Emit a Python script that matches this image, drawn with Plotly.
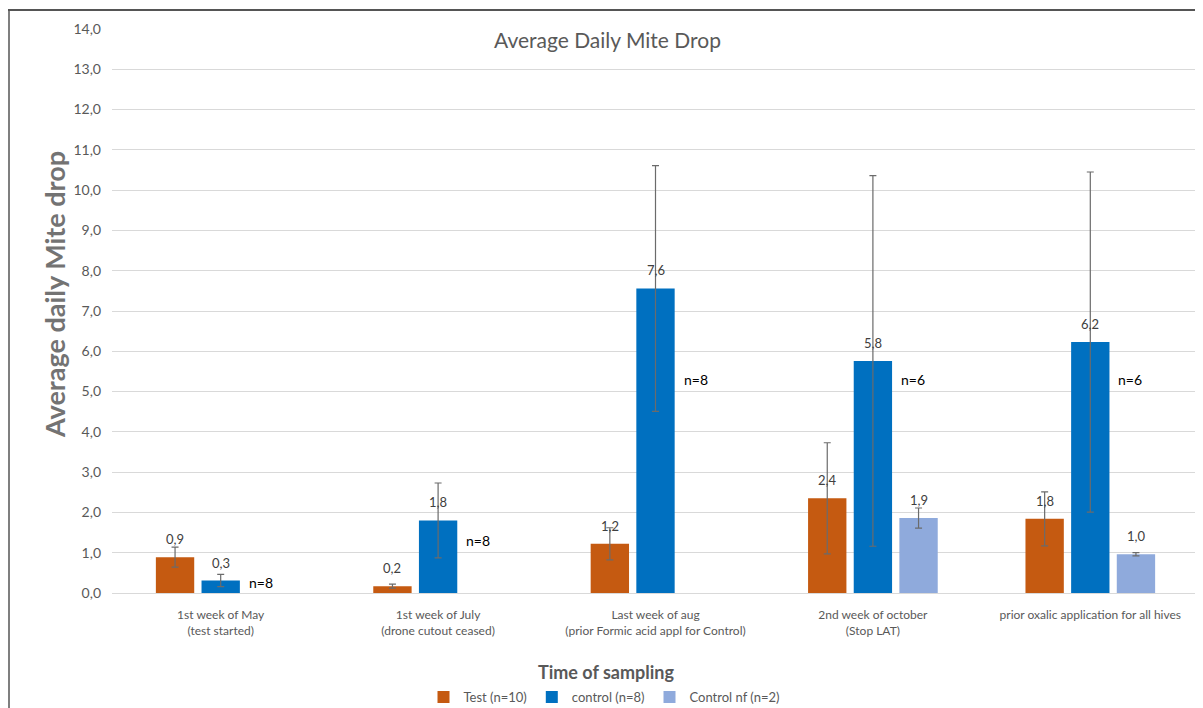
import plotly.graph_objects as go

categories = [
    "1st week of May<br>(test started)",
    "1st week of July<br>(drone cutout ceased)",
    "Last week of aug<br>(prior Formic acid appl for Control)",
    "2nd week of october<br>(Stop LAT)",
    "prior oxalic application for all hives",
]
test_vals = [0.89, 0.17, 1.22, 2.35, 1.84]
test_err = [0.25, 0.05, 0.40, 1.38, 0.67]
control_vals = [0.31, 1.80, 7.56, 5.76, 6.23]
control_err = [0.15, 0.93, 3.05, 4.60, 4.22]
nf_vals = [None, None, None, 1.86, 0.96]
nf_err = [None, None, None, 0.25, 0.04]
n_labels = ["n=8", "n=8", "n=8", "n=6", "n=6"]
n_label_y = [0.25, 1.30, 5.30, 5.30, 5.30]

# page has an 8px body margin: figure starts at screen (8, 8)
OFF = 8
W, H = 1203 - OFF, 708 - OFF
L, R, T, B = 112 - OFF, 4, 29 - OFF, 115
PW, PH = W - L - R, H - T - B
BARGAP, GROUPGAP = 0.37, 0.16


def px(sx):
    """screen x -> paper x"""
    return (sx - OFF - L) / PW


def py(sy):
    """screen y -> paper y"""
    return (H - B - (sy - OFF)) / PH


FONT = "Lato"
GRAY = "#595959"

fig = go.Figure()
series = [
    ("Test (n=10)", test_vals, test_err, "#C55A11"),
    ("control (n=8)", control_vals, control_err, "#0070C0"),
    ("Control nf (n=2)", nf_vals, nf_err, "#8FAADC"),
]
cat_px = PW / len(categories)
slot_px = cat_px * (1 - BARGAP) / len(series)
for si, (name, vals, errs, color) in enumerate(series):
    fig.add_trace(go.Bar(
        name=name, x=categories, y=vals,
        marker=dict(color=color, line=dict(width=0)),
        error_y=dict(type="data", array=errs, visible=True, color="#6b6b6b",
                     thickness=1.2, width=3.5),
    ))
    # data labels above each bar (Excel "outside end" style)
    for cat, v in zip(categories, vals):
        if v is None:
            continue
        fig.add_annotation(x=cat, y=v, text=f"{v:.1f}".replace(".", ","),
                           showarrow=False, xshift=(si - 1) * slot_px,
                           yshift=18, yanchor="middle",
                           font=dict(family=FONT, size=13, color="#404040"))

for cat, lab, yv in zip(categories, n_labels, n_label_y):
    fig.add_annotation(x=cat, y=yv, text=lab, showarrow=False, xshift=40,
                       font=dict(family=FONT, size=14, color="#000000"))

fig.add_annotation(xref="paper", yref="paper", x=px(607), y=py(40),
                   xanchor="center", yanchor="middle",
                   text="Average Daily Mite Drop", showarrow=False,
                   font=dict(family=FONT, size=21, color=GRAY))
fig.add_annotation(xref="paper", yref="paper", x=px(606), y=py(672),
                   xanchor="center", yanchor="middle",
                   text="<b>Time of sampling</b>", showarrow=False,
                   font=dict(family=FONT, size=18, color=GRAY))
fig.add_annotation(xref="paper", yref="paper", x=px(54), y=py(295),
                   xanchor="center", yanchor="middle",
                   text="<b>Average daily Mite drop</b>", showarrow=False,
                   textangle=-90,
                   font=dict(family=FONT, size=27, color="#737373"))

shapes = []
# chart border (top and left edges of the Excel chart frame)
shapes.append(dict(type="line", xref="paper", yref="paper",
                   x0=px(8), x1=px(1203), y0=py(10), y1=py(10),
                   line=dict(color="#555555", width=2)))
shapes.append(dict(type="line", xref="paper", yref="paper",
                   x0=px(9), x1=px(9), y0=py(10), y1=py(708),
                   line=dict(color="#555555", width=1.5)))

fig.update_layout(
    width=W, height=H,
    margin=dict(l=L, r=R, t=T, b=B, pad=0, autoexpand=False),
    paper_bgcolor="white", plot_bgcolor="white",
    separators=", ",
    barmode="group", bargap=BARGAP, bargroupgap=GROUPGAP,
    font=dict(family=FONT, color=GRAY),
    showlegend=True,
    legend=dict(orientation="h", xref="container", yref="container",
                xanchor="center", yanchor="middle",
                x=(604 - OFF) / W, y=(708 - 697) / H,
                font=dict(family=FONT, size=13, color=GRAY),
                itemwidth=30, tracegroupgap=0, bgcolor="rgba(0,0,0,0)"),
    shapes=shapes,
)
fig.update_xaxes(showgrid=False, showline=False, ticks="", automargin=False,
                 ticklabelstandoff=13,
                 tickfont=dict(family=FONT, size=12, color=GRAY))
fig.update_yaxes(range=[0, 14], dtick=1, tickformat=".1f", automargin=False,
                 showgrid=True, gridcolor="#d9d9d9", gridwidth=1,
                 zeroline=True, zerolinecolor="#d9d9d9", zerolinewidth=1,
                 showline=False, ticks="", ticklabelstandoff=10,
                 tickfont=dict(family=FONT, size=14, color=GRAY))

fig.write_html("out.html")
